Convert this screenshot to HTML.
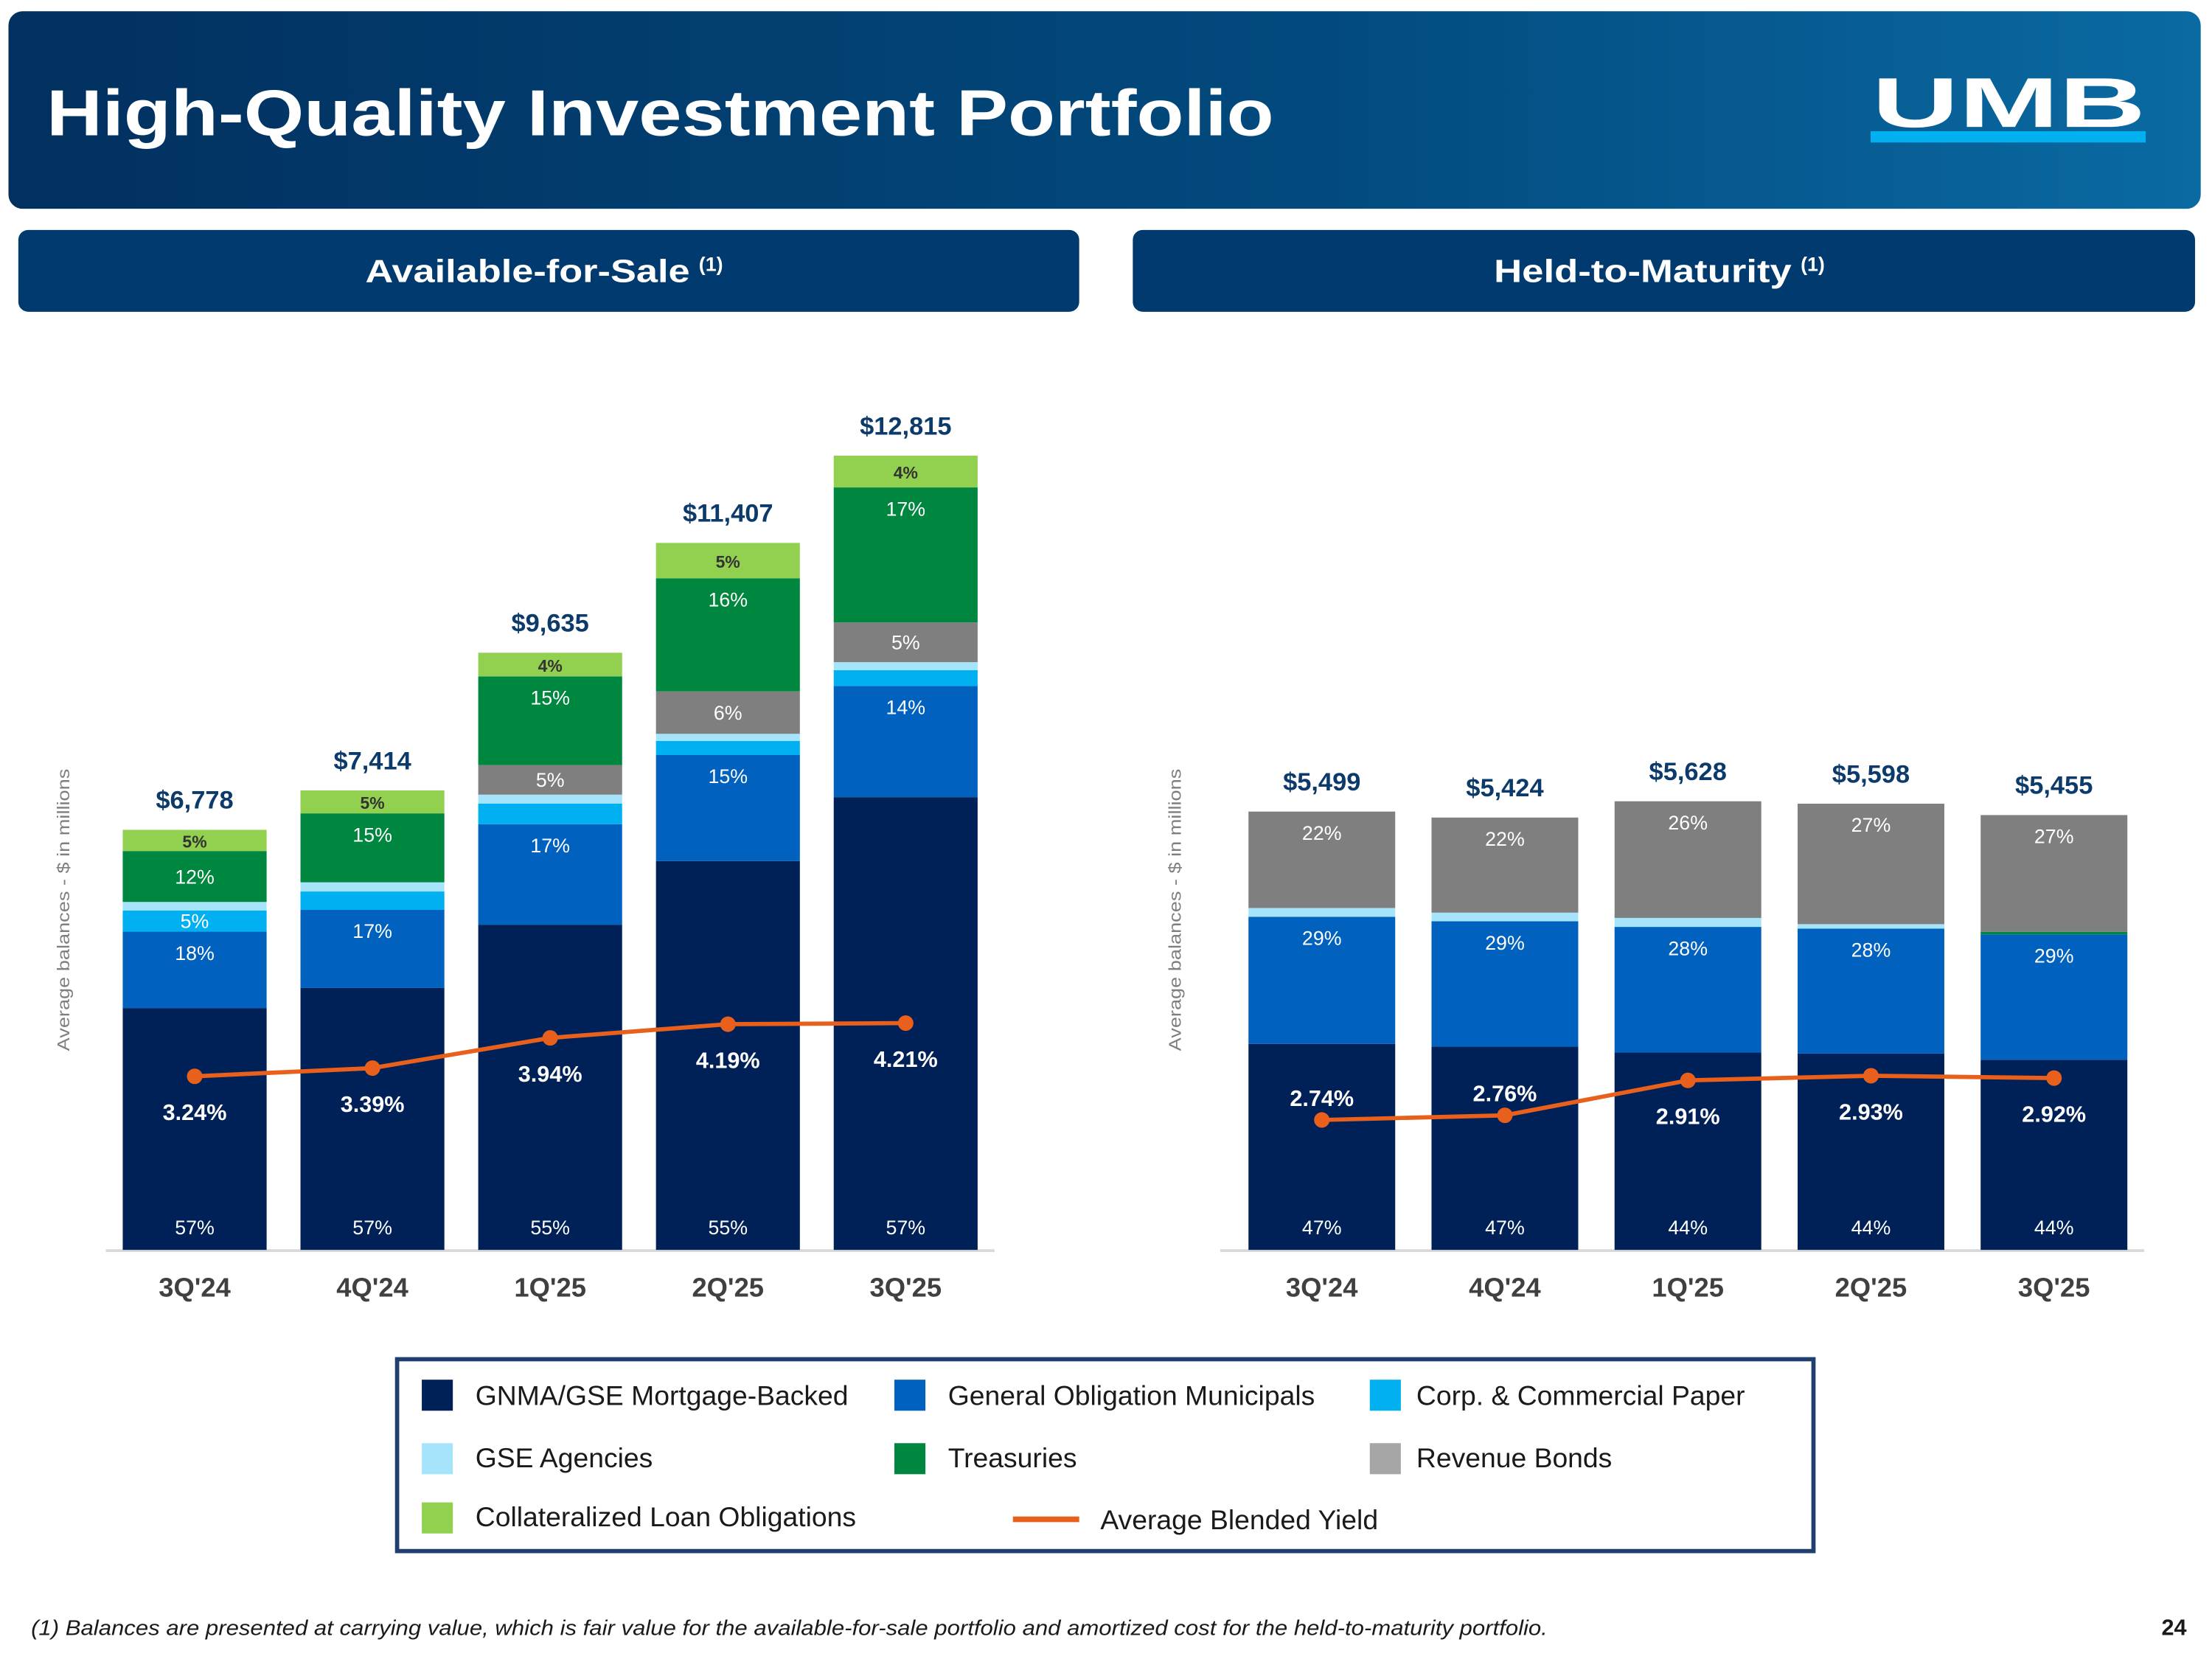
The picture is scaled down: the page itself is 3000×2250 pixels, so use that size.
<!DOCTYPE html>
<html><head><meta charset="utf-8"><style>
html,body{margin:0;padding:0;background:#fff}
svg{display:block}
text{font-family:"Liberation Sans",Arial,sans-serif}
</style></head><body>
<svg id="s" width="3000" height="2250" viewBox="0 0 1568 1176" xmlns="http://www.w3.org/2000/svg">
<defs>
<linearGradient id="hg" x1="0" x2="1" y1="0" y2="0"><stop offset="0" stop-color="#02305f"/><stop offset="0.6" stop-color="#024a7e"/><stop offset="1" stop-color="#0a6aa2"/></linearGradient>
</defs>
<rect x="6" y="8" width="1554" height="140" rx="10" fill="url(#hg)"/>
<text x="33" y="96" font-size="46" font-weight="bold" fill="#fff" textLength="870" lengthAdjust="spacingAndGlyphs">High-Quality Investment Portfolio</text>
<g>
<text x="1424" y="90" font-size="50" font-weight="bold" fill="#fff" text-anchor="middle" textLength="194" lengthAdjust="spacingAndGlyphs">UMB</text>
<rect x="1326" y="93" width="195" height="8" fill="#00b0f0"/>
</g>
<rect x="13" y="163" width="752" height="58" rx="7" fill="#003a6e"/>
<text x="259" y="200" font-size="23" font-weight="bold" fill="#fff"><tspan textLength="230" lengthAdjust="spacingAndGlyphs">Available-for-Sale</tspan> <tspan font-size="14" dy="-8">(1)</tspan></text>
<rect x="803" y="163" width="753" height="58" rx="7" fill="#003a6e"/>
<text x="1059" y="200" font-size="23" font-weight="bold" fill="#fff"><tspan textLength="211" lengthAdjust="spacingAndGlyphs">Held-to-Maturity</tspan> <tspan font-size="14" dy="-8">(1)</tspan></text>
<text transform="translate(49,645) rotate(-90)" font-size="12" fill="#7f7f7f" text-anchor="middle" textLength="200" lengthAdjust="spacingAndGlyphs">Average balances  - $ in millions</text>
<text transform="translate(837,645) rotate(-90)" font-size="12" fill="#7f7f7f" text-anchor="middle" textLength="200" lengthAdjust="spacingAndGlyphs">Average balances  - $ in millions</text>
<g id="charts"></g>
<g>
<rect x="281.5" y="963.5" width="1004" height="136" fill="#fff" stroke="#1f3f6e" stroke-width="3"/>
<g><rect x="299" y="978" width="22" height="22" fill="#002157"/><text x="337" y="996" font-size="19.5" fill="#1a1a1a">GNMA/GSE Mortgage-Backed</text></g>
<g><rect x="634" y="978" width="22" height="22" fill="#0061bf"/><text x="672" y="996" font-size="19.5" fill="#1a1a1a">General Obligation Municipals</text></g>
<g><rect x="971" y="978" width="22" height="22" fill="#00b0f0"/><text x="1004" y="996" font-size="19.5" fill="#1a1a1a">Corp. &amp; Commercial Paper</text></g>
<g><rect x="299" y="1023" width="22" height="22" fill="#a6e4fb"/><text x="337" y="1040" font-size="19.5" fill="#1a1a1a">GSE Agencies</text></g>
<g><rect x="634" y="1023" width="22" height="22" fill="#00873f"/><text x="672" y="1040" font-size="19.5" fill="#1a1a1a">Treasuries</text></g>
<g><rect x="971" y="1023" width="22" height="22" fill="#a6a6a6"/><text x="1004" y="1040" font-size="19.5" fill="#1a1a1a">Revenue Bonds</text></g>
<g><rect x="299" y="1065" width="22" height="22" fill="#92d050"/><text x="337" y="1082" font-size="19.5" fill="#1a1a1a">Collateralized Loan Obligations</text></g>
<g><line x1="718" y1="1077" x2="765" y2="1077" stroke="#e8601c" stroke-width="4"/><text x="780" y="1084" font-size="19.5" fill="#1a1a1a">Average Blended Yield</text></g>
</g>
<text x="22" y="1159" font-size="15" font-style="italic" fill="#1a1a1a" textLength="1075" lengthAdjust="spacingAndGlyphs">(1) Balances are presented at carrying value, which is fair value for the available-for-sale portfolio and amortized cost for the held-to-maturity portfolio.</text>
<text x="1550" y="1159" font-size="16" font-weight="bold" fill="#1a1a1a" text-anchor="end">24</text>
</svg>
<script>
const quarters = ["3Q'24","4Q'24","1Q'25","2Q'25","3Q'25"];
// series index: 0 GNMA, 1 GO, 2 Corp, 3 GSE, 4 Treasuries, 5 Revenue, 6 CLO
const afsTotals = [6778, 7414, 9635, 11407, 12815];
const afsGnma = [57, 57, 55, 55, 57];
const afsGo = [18, 17, 17, 15, 14];
const afsCorp = [5, 4, 3.5, 2, 2];
const afsGse = [2, 2, 1.5, 1, 1];
const afsTreas = [12, 15, 15, 16, 17];
const afsRev = [0, 0, 5, 6, 5];
const afsClo = [5, 5, 4, 5, 4];
const afsYield = [3.24, 3.39, 3.94, 4.19, 4.21];
const afsLabels = [
 ["57%","18%","5%","","12%","","5%"],
 ["57%","17%","","","15%","","5%"],
 ["55%","17%","","","15%","5%","4%"],
 ["55%","15%","","","16%","6%","5%"],
 ["57%","14%","","","17%","5%","4%"]];
const htmTotals = [5499, 5424, 5628, 5598, 5455];
const htmGnma = [47, 47, 44, 44, 44];
const htmGo = [29, 29, 28, 28, 29];
const htmCorp = [0, 0, 0, 0, 0];
const htmGse = [2, 2, 2, 1, 0];
const htmTreas = [0, 0, 0, 0, 0.6];
const htmRev = [22, 22, 26, 27, 27];
const htmClo = [0, 0, 0, 0, 0];
const htmYield = [2.74, 2.76, 2.91, 2.93, 2.92];
const htmLabels = [
 ["47%","29%","","","","22%",""],
 ["47%","29%","","","","22%",""],
 ["44%","28%","","","","26%",""],
 ["44%","28%","","","","27%",""],
 ["44%","29%","","","","27%",""]];
const htmYieldAbove = [true, true, false, false, false];

const colors = ["#002157","#0061bf","#00b0f0","#a6e4fb","#00873f","#7f7f7f","#92d050"];
const segNames = ["gnma","go-municipals","corp-paper","gse-agencies","treasuries","revenue-bonds","clo"];
const NS = "http://www.w3.org/2000/svg";
const root = document.getElementById("charts");
function mk(tag, attrs, parent){const e=document.createElementNS(NS,tag);for(const k in attrs)e.setAttribute(k,attrs[k]);(parent||root).appendChild(e);return e;}

function chart(cfg){
  const g = mk("g",{});
  
  
  const xC = i => cfg.x0 + i*cfg.step;
  const yY = v => cfg.ya - cfg.yb*v;
  const ax = mk("line",{x1:cfg.axL,x2:cfg.axR,y1:cfg.base+0.5,y2:cfg.base+0.5,stroke:"#d9d9d9","stroke-width":2},g);
  
  
  quarters.forEach((q,i)=>{
    const series=cfg.s.map(a=>a[i]);
    const sum=series.reduce((a,b)=>a+b,0);
    const H=cfg.totals[i]*cfg.scale;
    let y=cfg.base;
    cfg.order.forEach(k=>{
      const p=series[k];
      if(p<=0)return;
      const h=H*p/sum;
      const r=mk("rect",{x:xC(i)-cfg.w/2,y:y-h,width:cfg.w,height:h,fill:colors[k]},g);
      
      
      const lab=cfg.labels[i][k];
      if(lab){
        let ty = k===0 ? cfg.base-11 : (k===1||k===4||k===5) && h>40 ? y-h+20 : y-h/2+5;
        const t=mk("text",{x:xC(i),y:ty,"font-size":k===6?12:14,"text-anchor":"middle",fill:k===6?"#333":"#fff","font-weight":k===6?"bold":"normal"},g);
        t.textContent=lab;
        
        
      }
      y-=h;
    });
    const tt=mk("text",{x:xC(i),y:cfg.base-H-15,"font-size":18,"font-weight":"bold","text-anchor":"middle",fill:"#0b3a6b"},g);
    tt.textContent="$"+cfg.totals[i].toLocaleString("en-US");
    
    
    const xl=mk("text",{x:xC(i),y:cfg.base+33,"font-size":19,"font-weight":"bold","text-anchor":"middle",fill:"#404040"},g);
    xl.textContent=q;
    
    
  });
  const pts=cfg.yld.map((v,i)=>xC(i)+","+yY(v)).join(" ");
  const pl=mk("polyline",{points:pts,fill:"none",stroke:"#e8601c","stroke-width":3},g);
  
  
  cfg.yld.forEach((v,i)=>{
    const c=mk("circle",{cx:xC(i),cy:yY(v),r:5.5,fill:"#e8601c"},g);
    
    
    const above=cfg.above?cfg.above[i]:false;
    const t=mk("text",{x:xC(i),y:above?yY(v)-10:yY(v)+31,"font-size":16,"font-weight":"bold","text-anchor":"middle",fill:"#fff"},g);
    t.textContent=v.toFixed(2)+"%";
    
    
  });
}
chart({name:"afs-chart",base:886,scale:563/12815,x0:138,step:126,w:102,axL:75,axR:705,ya:889,yb:38.9,order:[0,1,2,3,5,4,6],
  totals:afsTotals,s:[afsGnma,afsGo,afsCorp,afsGse,afsTreas,afsRev,afsClo],labels:afsLabels,yld:afsYield});
chart({name:"htm-chart",base:886,scale:318/5628,x0:937,step:129.75,w:104,axL:865,axR:1520,ya:1246,yb:165,order:[0,1,2,4,3,5,6],
  totals:htmTotals,s:[htmGnma,htmGo,htmCorp,htmGse,htmTreas,htmRev,htmClo],labels:htmLabels,yld:htmYield,above:htmYieldAbove});
</script>
</body></html>
